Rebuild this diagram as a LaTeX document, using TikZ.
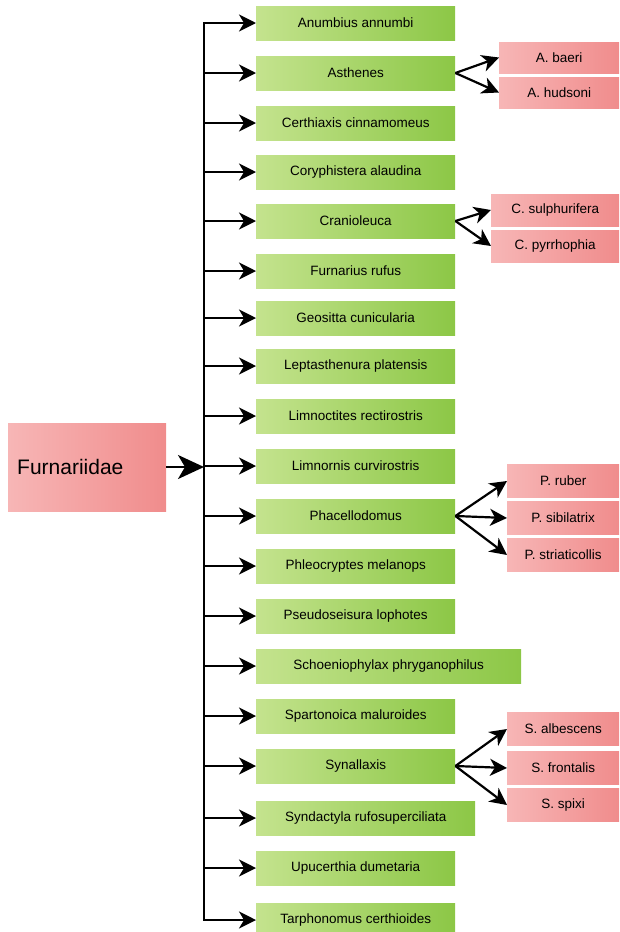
\documentclass[tikz,border=0pt]{standalone}
\usepackage{fontspec}
\setmainfont{Liberation Sans}
\usetikzlibrary{arrows.meta}
\definecolor{verdeclaro}{RGB}{196,227,142}
\definecolor{verdeescuro}{RGB}{140,199,70}
\definecolor{rosaclaro}{RGB}{247,182,182}
\definecolor{rosaescuro}{RGB}{240,140,140}
\begin{document}
\begin{tikzpicture}[x=1pt, y=-1pt,
    genero/.style={anchor=west, minimum width=199pt, minimum height=34pt, inner sep=0pt,
      left color=verdeclaro, right color=verdeescuro, font=\fontsize{13.5}{16}\selectfont},
    especie/.style={anchor=west, minimum height=32pt, inner sep=0pt,
      left color=rosaclaro, right color=rosaescuro, font=\fontsize{13.5}{16}\selectfont},
    seta/.style={line width=2.2pt, -{Stealth[length=17pt, width=17pt, inset=5pt]}}]
      \useasboundingbox (0,0) rectangle (619,932);

      % Familia
      \node[anchor=west, minimum height=88pt, text width=140pt, inner xsep=9pt, align=left,
        left color=rosaclaro, right color=rosaescuro, font=\fontsize{21}{25}\selectfont] (raiz) at (8,467) {Furnariidae};
      \coordinate (tronco) at (204,467);

      % Generos
      \node[genero] (g1) at (256,23) {Anumbius annumbi};
      \node[genero] (g2) at (256,73) {Asthenes};
      \node[genero] (g3) at (256,123) {Certhiaxis cinnamomeus};
      \node[genero] (g4) at (256,172) {Coryphistera alaudina};
      \node[genero] (g5) at (256,221) {Cranioleuca};
      \node[genero] (g6) at (256,271) {Furnarius rufus};
      \node[genero] (g7) at (256,318) {Geositta cunicularia};
      \node[genero] (g8) at (256,366) {Leptasthenura platensis};
      \node[genero] (g9) at (256,416) {Limnoctites rectirostris};
      \node[genero] (g10) at (256,466) {Limnornis curvirostris};
      \node[genero] (g11) at (256,516) {Phacellodomus};
      \node[genero] (g12) at (256,566) {Phleocryptes melanops};
      \node[genero] (g13) at (256,616) {Pseudoseisura lophotes};
      \node[genero, minimum width=265pt] (g14) at (256,666) {Schoeniophylax phryganophilus};
      \node[genero] (g15) at (256,716) {Spartonoica maluroides};
      \node[genero] (g16) at (256,766) {Synallaxis};
      \node[genero, minimum width=219pt] (g17) at (256,818) {Syndactyla rufosuperciliata};
      \node[genero] (g18) at (256,868) {Upucerthia dumetaria};
      \node[genero] (g19) at (256,920) {Tarphonomus certhioides};

      % Especies
      \node[especie, minimum width=120pt, minimum height=31pt] (a1) at (499,57.5) {A. baeri};
      \node[especie, minimum width=120pt, minimum height=31pt] (a2) at (499,92.5) {A. hudsoni};
      \node[especie, minimum width=128pt] (c1) at (491,210) {C. sulphurifera};
      \node[especie, minimum width=128pt] (c2) at (491,246) {C. pyrrhophia};
      \node[especie, minimum width=112pt, minimum height=33pt] (p1) at (507,481) {P. ruber};
      \node[especie, minimum width=112pt, minimum height=33pt] (p2) at (507,518) {P. sibilatrix};
      \node[especie, minimum width=112pt, minimum height=33pt] (p3) at (507,555) {P. striaticollis};
      \node[especie, minimum width=112pt, minimum height=33pt] (s1) at (507,729) {S. albescens};
      \node[especie, minimum width=112pt, minimum height=33pt] (s2) at (507,768) {S. frontalis};
      \node[especie, minimum width=112pt, minimum height=33pt] (s3) at (507,805) {S. spixi};

      % Tronco e setas
      \draw[line width=2.2pt, line cap=rect] (g1.west -| tronco) -- (g19.west -| tronco);
      \draw[line width=2.2pt, -{Stealth[length=26pt, width=24pt, inset=7pt]}] (raiz.east) -- (tronco);
      \draw[seta] (g1.west -| tronco) -- (g1.west);
      \draw[seta] (g2.west -| tronco) -- (g2.west);
      \draw[seta] (g3.west -| tronco) -- (g3.west);
      \draw[seta] (g4.west -| tronco) -- (g4.west);
      \draw[seta] (g5.west -| tronco) -- (g5.west);
      \draw[seta] (g6.west -| tronco) -- (g6.west);
      \draw[seta] (g7.west -| tronco) -- (g7.west);
      \draw[seta] (g8.west -| tronco) -- (g8.west);
      \draw[seta] (g9.west -| tronco) -- (g9.west);
      \draw[seta] (g10.west -| tronco) -- (g10.west);
      \draw[seta] (g11.west -| tronco) -- (g11.west);
      \draw[seta] (g12.west -| tronco) -- (g12.west);
      \draw[seta] (g13.west -| tronco) -- (g13.west);
      \draw[seta] (g14.west -| tronco) -- (g14.west);
      \draw[seta] (g15.west -| tronco) -- (g15.west);
      \draw[seta] (g16.west -| tronco) -- (g16.west);
      \draw[seta] (g17.west -| tronco) -- (g17.west);
      \draw[seta] (g18.west -| tronco) -- (g18.west);
      \draw[seta] (g19.west -| tronco) -- (g19.west);

      % Setas para as especies
      \draw[seta] (g2.east) -- (a1.west);
      \draw[seta] (g2.east) -- (a2.west);
      \draw[seta] (g5.east) -- (c1.west);
      \draw[seta] (g5.east) -- (c2.west);
      \draw[seta] (g11.east) -- (p1.west);
      \draw[seta] (g11.east) -- (p2.west);
      \draw[seta] (g11.east) -- (p3.west);
      \draw[seta] (g16.east) -- (s1.west);
      \draw[seta] (g16.east) -- (s2.west);
      \draw[seta] (g16.east) -- (s3.west);
    \end{tikzpicture}
\end{document}
